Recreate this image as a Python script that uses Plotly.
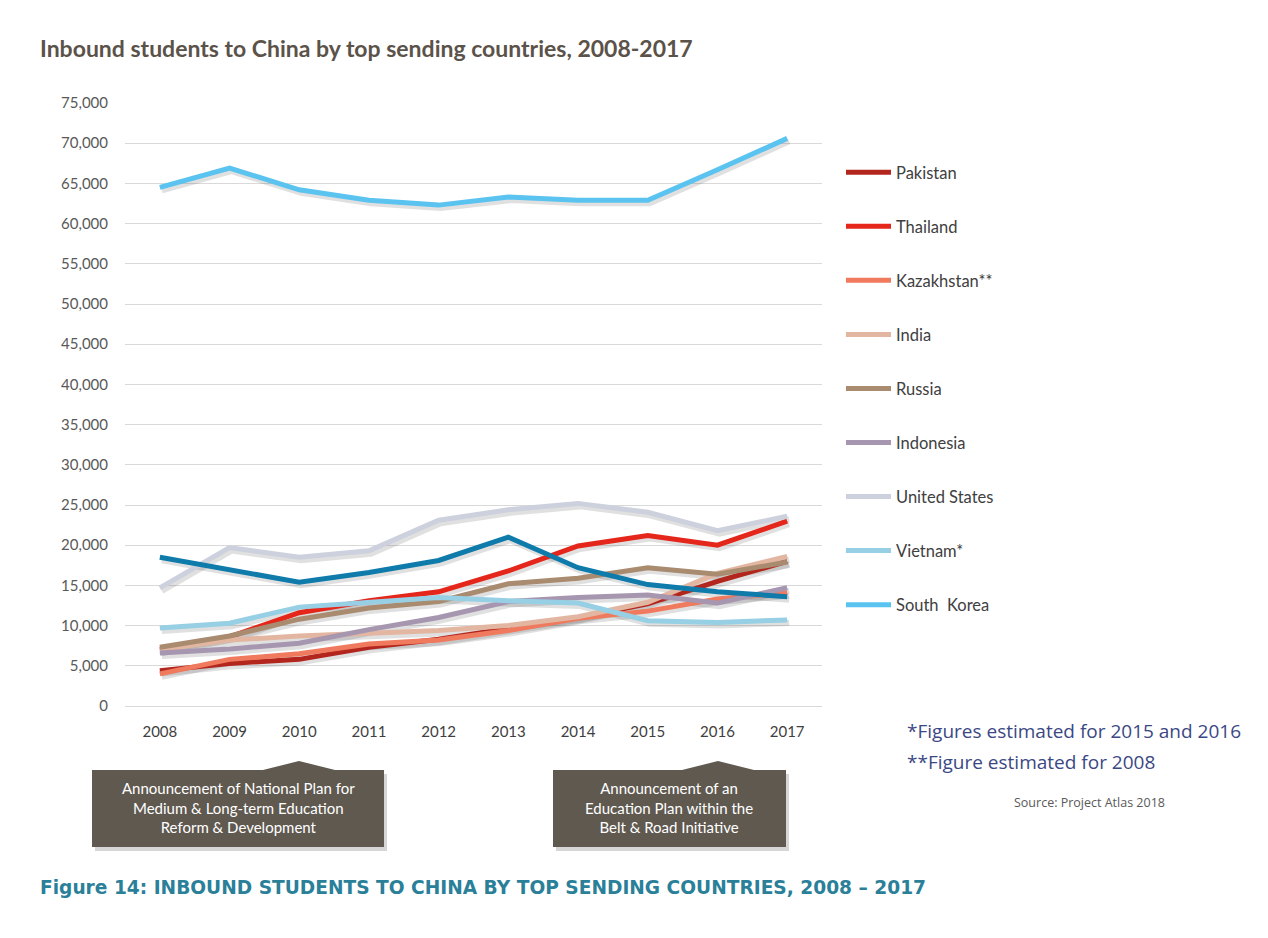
import plotly.graph_objects as go

years = ["2008", "2009", "2010", "2011", "2012", "2013", "2014", "2015", "2016", "2017"]

pakistan = [4400, 5300, 5800, 7300, 8300, 9600, 11000, 12700, 15500, 18000]
thailand = [7000, 8600, 11600, 13100, 14200, 16800, 19900, 21200, 20000, 23000]
kazakhstan = [4000, 5800, 6500, 7700, 8200, 9400, 10900, 11800, 13300, 14100]
india = [7000, 8200, 8700, 9100, 9400, 10000, 11100, 12900, 16500, 18600]
russia = [7300, 8700, 10800, 12200, 13000, 15200, 15900, 17200, 16400, 17900]
indonesia = [6600, 7100, 7800, 9500, 11000, 13000, 13500, 13800, 12800, 14700]
united_states = [14700, 19700, 18500, 19300, 23100, 24400, 25200, 24100, 21800, 23600]
vietnam = [9700, 10300, 12300, 12900, 13500, 13100, 12800, 10600, 10400, 10700]
japan = [18500, 16900, 15400, 16600, 18100, 21000, 17200, 15100, 14200, 13600]
south_korea = [64500, 66900, 64200, 62900, 62300, 63300, 62900, 62900, 66700, 70600]

series = [
    ("Pakistan", pakistan, "#b3261e", True),
    ("Thailand", thailand, "#e5261b", True),
    ("Kazakhstan**", kazakhstan, "#ef7a5d", True),
    ("India", india, "#e3b6a1", True),
    ("Russia", russia, "#a98b6f", True),
    ("Indonesia", indonesia, "#a696b0", True),
    ("United States", united_states, "#cdd1dd", True),
    ("Vietnam*", vietnam, "#97cfe4", True),
    ("Japan", japan, "#0e7bab", False),
    ("South  Korea", south_korea, "#5bc3ef", True),
]

# window geometry (pixels) used to place layout decorations
WIN_W, WIN_H, OFF = 1268, 938, 8
L, R, T, B = 125, 822, 103, 706
Y_MAX = 75000
SHADOW_DX, SHADOW_DY = 2, 3  # px offset of the soft drop shadow


def px(x):
    return (x - L) / (R - L)


def py(y):
    return (B - y) / (B - T)


fig = go.Figure()
# drop shadows (primary axes, ranges nudged a few px)
for name, vals, color, show in series:
    fig.add_trace(go.Scatter(
        x=years, y=vals, mode="lines", name=name + " shadow",
        line=dict(color="rgba(60,60,60,0.16)", width=6),
        showlegend=False, hoverinfo="skip", xaxis="x", yaxis="y",
    ))
# actual lines (overlay axes with true ranges)
for name, vals, color, show in series:
    fig.add_trace(go.Scatter(
        x=years, y=vals, mode="lines", name=name,
        line=dict(color=color, width=5),
        showlegend=show, legendgroup=name, hoverinfo="skip", xaxis="x2", yaxis="y2",
    ))

box_color = "#5f5950"


def box_path(x0, x1, y0, y1, tip_x, tip_y, half, dx=0, dy=0):
    pts = [(x0, y0), (tip_x - half, y0), (tip_x, tip_y), (tip_x + half, y0),
           (x1, y0), (x1, y1), (x0, y1)]
    return "M " + " L ".join(f"{px(a + dx):.5f},{py(b + dy):.5f}" for a, b in pts) + " Z"


shapes = []
for (x0, x1, tipx) in [(92, 384, 299), (553, 786, 718)]:
    shapes.append(dict(type="path", xref="paper", yref="paper",
                       path=box_path(x0, x1, 770, 847, tipx, 761, 36, 3, 4),
                       fillcolor="rgba(0,0,0,0.16)", line=dict(width=0), layer="above"))
    shapes.append(dict(type="path", xref="paper", yref="paper",
                       path=box_path(x0, x1, 770, 847, tipx, 761, 36),
                       fillcolor=box_color, line=dict(width=0), layer="above"))

annotations = [
    dict(text="<b>Inbound students to China by top sending countries, 2008-2017</b>",
         x=px(38), y=py(48), xref="paper", yref="paper", xanchor="left", yanchor="middle",
         showarrow=False, font=dict(family="Lato", size=23, color="#5b5249")),
    dict(text="Announcement of National Plan for<br>Medium & Long-term Education<br>Reform & Development",
         x=px(238), y=py(808), xref="paper", yref="paper", xanchor="center", yanchor="middle",
         showarrow=False, align="center", font=dict(family="Lato", size=15, color="white")),
    dict(text="Announcement of an<br>Education Plan within the<br>Belt & Road Initiative",
         x=px(669), y=py(808), xref="paper", yref="paper", xanchor="center", yanchor="middle",
         showarrow=False, align="center", font=dict(family="Lato", size=15, color="white")),
    dict(text="*Figures estimated for 2015 and 2016",
         x=px(905), y=py(731), xref="paper", yref="paper", xanchor="left", yanchor="middle",
         showarrow=False, font=dict(family="Open Sans", size=19, color="#3b4884")),
    dict(text="**Figure estimated for 2008",
         x=px(905), y=py(762), xref="paper", yref="paper", xanchor="left", yanchor="middle",
         showarrow=False, font=dict(family="Open Sans", size=19, color="#3b4884")),
    dict(text="Source: Project Atlas 2018",
         x=px(1012), y=py(802), xref="paper", yref="paper", xanchor="left", yanchor="middle",
         showarrow=False, font=dict(family="Open Sans", size=12.5, color="#595959")),
    dict(text="<b>Figure 14: INBOUND STUDENTS TO CHINA BY TOP SENDING COUNTRIES, 2008 – 2017</b>",
         x=px(38), y=py(887), xref="paper", yref="paper", xanchor="left", yanchor="middle",
         showarrow=False, font=dict(family="DejaVu Sans", size=18.6, color="#2a7f99")),
]

step_px = (R - L) / 10.0
sx = SHADOW_DX / step_px
sy = SHADOW_DY * Y_MAX / (B - T)

fig.update_layout(
    width=WIN_W - OFF, height=WIN_H - OFF,
    margin=dict(l=L - OFF, r=WIN_W - R, t=T - OFF, b=WIN_H - B, pad=0),
    paper_bgcolor="white", plot_bgcolor="white",
    font=dict(family="Lato", size=15, color="#404040"),
    showlegend=True,
    legend=dict(x=px(841), y=py(155), xanchor="left", yanchor="top",
                traceorder="grouped", tracegroupgap=29.6, itemwidth=45,
                font=dict(family="Lato", size=16.5, color="#404040"),
                bgcolor="rgba(0,0,0,0)"),
    xaxis=dict(type="category", range=[-0.5 - sx, 9.5 - sx], showgrid=False, showline=False,
               zeroline=False, ticks="", showticklabels=False),
    yaxis=dict(range=[sy, Y_MAX + sy], showgrid=False, zeroline=False, showline=False,
               ticks="", showticklabels=False),
    xaxis2=dict(type="category", range=[-0.5, 9.5], overlaying="x", anchor="y2", side="bottom",
                showgrid=False, showline=False, zeroline=False, ticks="", ticklabelstandoff=15,
                tickfont=dict(family="Lato", size=15, color="#404040")),
    yaxis2=dict(range=[0, Y_MAX], dtick=5000, tickformat=",", overlaying="y", anchor="x2",
                side="left", showgrid=True, gridcolor="#d9d9d9", gridwidth=1, zeroline=True,
                zerolinecolor="#d9d9d9", zerolinewidth=1, showline=False, ticks="",
                ticklabelstandoff=16, tickfont=dict(family="Lato", size=15, color="#595959")),
    shapes=shapes,
    annotations=annotations,
    hovermode=False,
)

fig.write_html("out.html")
